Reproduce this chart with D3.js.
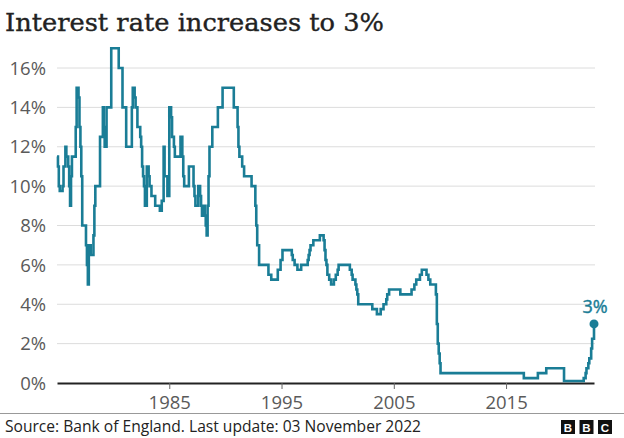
<!DOCTYPE html>
<html>
<head>
<meta charset="utf-8">
<script src="https://cdn.jsdelivr.net/npm/d3@7"></script>
<style>
body { margin: 0; background: #fff; }
text { font-family: "Open Sans", "Noto Sans", sans-serif; }
</style>
</head>
<body>
<svg id="chart" width="624" height="438"></svg>
<script>
// bank rate, month of each change
var changeDates = [
 "1975-01","1975-02","1975-03","1975-04","1975-07","1975-08","1975-10","1975-11",
 "1976-01","1976-02","1976-03","1976-04","1976-05","1976-09","1976-10","1976-12",
 "1977-01","1977-02","1977-03","1977-04","1977-08","1977-09","1977-10","1977-11",
 "1978-01","1978-04","1978-05","1978-06","1978-11",
 "1979-02","1979-03","1979-04","1979-06","1979-11",
 "1980-07","1980-11",
 "1981-03","1981-09","1981-10","1981-12",
 "1982-01","1982-03","1982-06","1982-07","1982-08","1982-09","1982-10","1982-11",
 "1983-01","1983-03","1983-04","1983-06","1983-10",
 "1984-03","1984-05","1984-07","1984-08","1984-11",
 "1985-01","1985-03","1985-04","1985-06","1985-07",
 "1986-01","1986-03","1986-04","1986-05","1986-10",
 "1987-03","1987-04","1987-05","1987-08","1987-10","1987-11","1987-12",
 "1988-02","1988-03","1988-04","1988-05","1988-06","1988-07","1988-08","1988-11",
 "1989-05","1989-10",
 "1990-10",
 "1991-02","1991-03","1991-04","1991-07","1991-09",
 "1992-05","1992-09","1992-10","1992-11",
 "1993-01","1993-11",
 "1994-02","1994-09","1994-12",
 "1995-02","1995-12",
 "1996-01","1996-03","1996-06","1996-10",
 "1997-05","1997-06","1997-07","1997-08","1997-11",
 "1998-06","1998-10","1998-11","1998-12",
 "1999-01","1999-02","1999-04","1999-06","1999-09","1999-11",
 "2000-01","2000-02",
 "2001-02","2001-04","2001-05","2001-08","2001-09","2001-10","2001-11",
 "2003-02","2003-07","2003-11",
 "2004-02","2004-05","2004-06","2004-08",
 "2005-08",
 "2006-08","2006-11",
 "2007-01","2007-05","2007-07","2007-12",
 "2008-02","2008-04","2008-10","2008-11","2008-12",
 "2009-01","2009-02","2009-03",
 "2016-08","2017-11","2018-08","2020-03",
 "2021-12","2022-02","2022-03","2022-05","2022-06","2022-08","2022-09","2022-11"
];
var rates = [
 11.5,11,10,9.75,10,11,12,11.5,
 11,10,9,10.5,11.5,13,15,14.5,
 13,12,10.5,8,7,6,5,7,
 6.5,7.5,9,10,12.5,
 14,13,12,14,17,
 16,14,
 12,14,15,14.5,
 14,13,12.5,12,11,10.5,10,9,
 11,10.5,10,9.5,9,
 8.75,9.25,12,10.5,9.5,
 14,13.5,12.5,12,11.5,
 12.5,11.5,10.5,10,11,
 10,9.5,9,10,9.5,9,8.5,
 9,8.5,8,7.5,9,10.5,12,13,
 14,15,
 14,
 13,12,11.5,11,10.5,
 10,9,8,7,
 6,5.5,
 5.25,5.75,6.25,
 6.75,6.5,
 6.25,6,5.75,6,
 6.25,6.5,6.75,7,7.25,
 7.5,7.25,6.75,6.25,
 6,5.5,5.25,5,5.25,5.5,
 5.75,6,
 5.75,5.5,5.25,5,4.75,4.5,4,
 3.75,3.5,3.75,
 4,4.25,4.5,4.75,
 4.5,
 4.75,5,
 5.25,5.5,5.75,5.5,
 5.25,5,4.5,3,2,
 1.5,1,0.5,
 0.25,0.5,0.75,0.1,
 0.25,0.5,0.75,1,1.25,1.75,2.25,3
];
var yTicks = [0, 2, 4, 6, 8, 10, 12, 14, 16];
var xTickYears = [1985, 1995, 2005, 2015];
var titleText = "Interest rate increases to 3%";
var sourceText = "Source: Bank of England. Last update: 03 November 2022";
var endLabel = "3%";

var parseMonth = d3.timeParse("%Y-%m");
var data = changeDates.map(function(d, i) { return { date: parseMonth(d), rate: rates[i] }; });

var svg = d3.select("#chart");
var plotLeft = 57, plotRight = 594, plotTop = 68, plotBottom = 383;
var teal = "#1a7d96";

var x = d3.scaleTime()
	.domain([data[0].date, data[data.length - 1].date])
	.range([plotLeft, plotRight]);

var y = d3.scaleLinear()
	.domain([0, 16])
	.range([plotBottom, plotTop]);

svg.append("text")
	.attr("x", 5).attr("y", 31)
	.attr("textLength", 379).attr("lengthAdjust", "spacingAndGlyphs")
	.style("font-family", "'DejaVu Serif', serif")
	.style("font-size", "24.5px")
	.attr("fill", "#222").attr("stroke", "#222").attr("stroke-width", 0.35)
	.text(titleText);

// grid + y labels
svg.selectAll(".grid")
	.data(yTicks.filter(d => d > 0))
	.enter().append("line")
	.attr("class", "grid")
	.attr("x1", plotLeft).attr("x2", plotRight + 1)
	.attr("y1", d => y(d)).attr("y2", d => y(d))
	.attr("stroke", "#dcdcdc").attr("stroke-width", 1);

svg.selectAll(".ylab")
	.data(yTicks)
	.enter().append("text")
	.attr("class", "ylab")
	.attr("x", 46).attr("y", d => y(d))
	.attr("dy", "0.36em")
	.attr("text-anchor", "end")
	.attr("fill", "#5a5a5a")
	.style("font-size", "18.5px")
	.text(d => d + "%");

// x axis
var xAxis = d3.axisBottom(x)
	.tickValues(xTickYears.map(yr => new Date(yr, 0, 1)))
	.tickFormat(d3.timeFormat("%Y"))
	.tickSize(6)
	.tickSizeOuter(0);

var gx = svg.append("g")
	.attr("transform", "translate(0," + plotBottom + ")")
	.call(xAxis);
gx.select(".domain").attr("stroke", "#222").attr("stroke-width", 2);
gx.selectAll(".tick line").attr("stroke", "#666");
gx.selectAll(".tick text")
	.attr("fill", "#5a5a5a")
	.attr("y", 9)
	.attr("dy", "0.9em")
	.style("font-size", "18.5px")
	.style("font-family", "'Open Sans', sans-serif");

var line = d3.line()
	.x(d => x(d.date))
	.y(d => y(d.rate))
	.curve(d3.curveStepAfter);

svg.append("path")
	.datum(data)
	.attr("d", line)
	.attr("fill", "none")
	.attr("stroke", teal)
	.attr("stroke-width", 2.6)
	.attr("stroke-linejoin", "miter");

var last = data[data.length - 1];
svg.append("circle")
	.attr("cx", x(last.date)).attr("cy", y(last.rate))
	.attr("r", 4.5).attr("fill", teal);

svg.append("text")
	.attr("x", x(last.date) + 1).attr("y", y(last.rate) - 11)
	.attr("text-anchor", "middle")
	.attr("fill", teal).attr("stroke", teal).attr("stroke-width", 0.4)
	.style("font-size", "18px")
	.text(endLabel);

// footer
svg.append("line")
	.attr("x1", 0).attr("x2", 624)
	.attr("y1", 413.5).attr("y2", 413.5)
	.attr("stroke", "#999").attr("stroke-width", 1);

svg.append("text")
	.attr("x", 5).attr("y", 432)
	.attr("fill", "#222")
	.style("font-size", "15.6px")
	.text(sourceText);

var logo = svg.append("g").attr("transform", "translate(561,420)");
["B", "B", "C"].forEach(function(ch, i) {
	logo.append("rect")
		.attr("x", i * 18.5).attr("y", 0)
		.attr("width", 14).attr("height", 14)
		.attr("fill", "#111");
	logo.append("text")
		.attr("x", i * 18.5 + 7).attr("y", 11.5)
		.attr("text-anchor", "middle")
		.attr("fill", "#fff")
		.style("font-size", "11.5px")
		.style("font-weight", "bold")
		.style("font-family", "'Liberation Sans', Arial, sans-serif")
		.text(ch);
});
</script>
</body>
</html>
